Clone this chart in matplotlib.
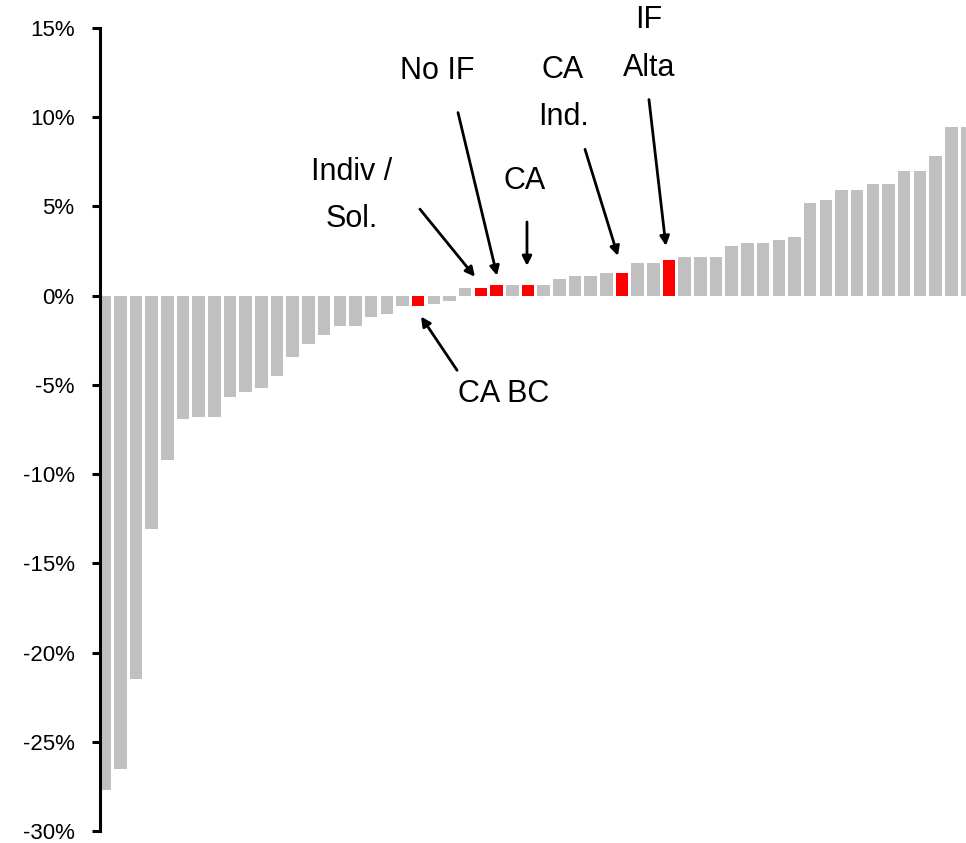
import matplotlib
matplotlib.use('Agg')
import matplotlib.pyplot as plt

# valori (%) delle barre, ordinate
values = [-27.7, -26.5, -21.5, -13.1, -9.2, -6.9, -6.8, -6.8, -5.7, -5.4,
          -5.2, -4.5, -3.45, -2.7, -2.2, -1.7, -1.7, -1.2, -1.0, -0.6,
          -0.6, -0.45, -0.3, 0.45, 0.45, 0.6, 0.6, 0.6, 0.6, 0.95,
          1.1, 1.1, 1.28, 1.28, 1.83, 1.83, 2.0, 2.17, 2.17, 2.17,
          2.77, 2.93, 2.93, 3.1, 3.27, 5.2, 5.38, 5.93, 5.93, 6.27,
          6.27, 6.99, 6.99, 7.82, 9.43, 9.43]
# barre evidenziate in rosso
highlight = {20: 'CA BC', 24: 'Indiv /\nSol.', 25: 'No IF', 27: 'CA',
             33: 'CA\nInd.', 36: 'IF\nAlta'}
yticks = [15, 10, 5, 0, -5, -10, -15, -20, -25, -30]
ytick_labels = ['15%', '10%', '5%', '0%', '-5%', '-10%', '-15%', '-20%', '-25%', '-30%']

plt.rcParams['font.family'] = ['Liberation Sans', 'DejaVu Sans']

W, H = 966, 843
fig = plt.figure(figsize=(W / 100, H / 100), dpi=100)
ax = fig.add_axes([99.5 / W, 12 / H, (W - 99.5) / W, 803 / H])

colors = ['#FF0000' if i in highlight else '#C0C0C0' for i in range(len(values))]
ax.bar(range(len(values)), values, width=0.8, color=colors, linewidth=0)

ax.set_xlim(-0.325, 54.94)
ax.set_ylim(-30, 15)
ax.set_yticks(yticks)
ax.set_yticklabels(ytick_labels, fontsize=16, va='center_baseline')
ax.set_xticks([])
ax.tick_params(axis='y', direction='out', length=6, width=2.2, pad=12)
for s in ['top', 'right', 'bottom']:
    ax.spines[s].set_visible(False)
ax.spines['left'].set_linewidth(2.2)

# annotazioni: (indice barra, punta freccia, coda freccia, posizione testo)
notes = [
    (24, (23.62, 1.06), (20.11, 4.85), (15.78, 5.63)),
    (25, (25.03, 1.12), (22.54, 10.26), (21.2, 12.58)),
    (27, (26.94, 1.67), (26.94, 4.13), (26.81, 6.44)),
    (33, (32.74, 2.23), (30.64, 8.2), (29.24, 11.32)),
    (36, (35.8, 2.79), (34.72, 10.99), (34.72, 14.11)),
    (20, (20.18, -1.17), (22.48, -4.18), (25.47, -5.49)),
]
for idx, tip, tail, txt in notes:
    ax.annotate('', xy=tip, xytext=tail,
                arrowprops=dict(arrowstyle='-|>', color='black', lw=2,
                                mutation_scale=14, shrinkA=0, shrinkB=0))
    ax.text(txt[0], txt[1], highlight[idx], fontsize=22, ha='center', va='center',
            linespacing=1.75, clip_on=False)

fig.savefig('out.png', dpi=100)
